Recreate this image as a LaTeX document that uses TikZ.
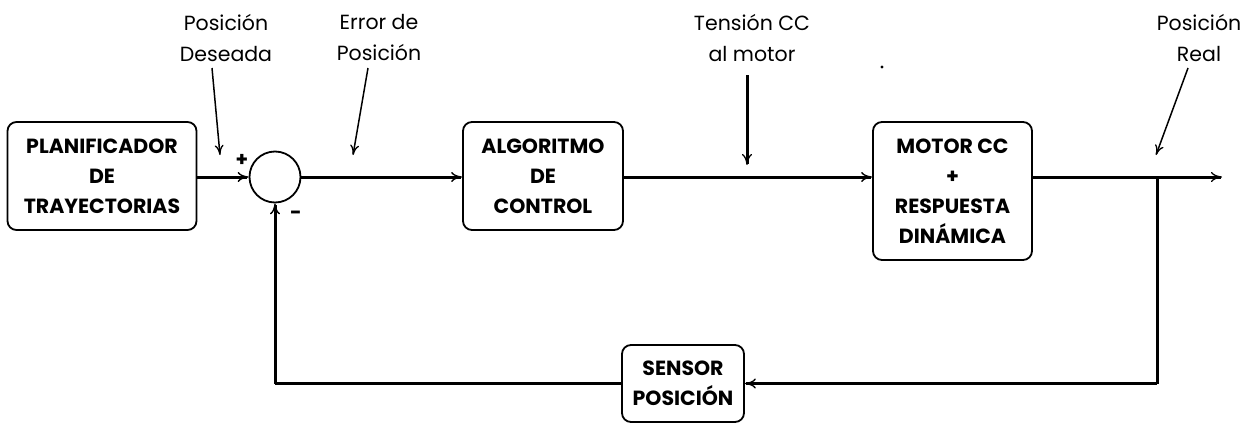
\documentclass[tikz,border=0pt]{standalone}
\usepackage{fontspec}
\setmainfont{Poppins}
\usetikzlibrary{arrows.meta}
\begin{document}
\begin{tikzpicture}[x=1pt,y=-1pt,
  blk/.style={draw,line width=1.8pt,rounded corners=9pt,align=center,inner sep=0pt,font=\fontsize{20.5}{30}\selectfont\bfseries},
  lbl/.style={align=center,inner sep=0pt,font=\fontsize{20.5}{31}\selectfont},
  sig/.style={line width=3pt,-{To[length=11pt,width=10pt,line width=1.3pt]}},
  ptr/.style={line width=1.5pt,-{To[length=10pt,width=9pt,line width=1.3pt]}}]
\useasboundingbox (0,0) rectangle (1258,423);
\node[blk,minimum width=189pt,minimum height=108pt] (plan) at (102,176) {PLANIFICADOR\\DE\\TRAYECTORIAS};
\node[draw,circle,line width=1.8pt,minimum size=51pt,inner sep=0pt] (sum) at (275,177) {};
\node[blk,minimum width=160pt,minimum height=108pt] (alg) at (543,176) {ALGORITMO\\DE\\CONTROL};
\node[blk,minimum width=159pt,minimum height=138pt] (mot) at (952.5,191) {MOTOR CC\\+\\RESPUESTA\\DINÁMICA};
\node[blk,minimum width=122pt,minimum height=77pt] (sen) at (683,383.5) {SENSOR\\POSICIÓN};
\coordinate (br) at (1157,177);
\coordinate (out) at (1222,177);
\coordinate (fl) at (sum.center |- sen.west);
\node[font=\fontsize{20}{20}\selectfont\bfseries] (plus) at (242,160) {+};
\node[font=\fontsize{20}{20}\selectfont\bfseries] (minus) at (296,215) {-};
\draw[sig] (plan.east |- sum.west) -- (sum.west);
\draw[sig] (sum.east) -- (alg.west |- sum.east);
\draw[sig] (alg.east |- sum.east) -- (mot.west |- sum.east);
\draw[sig] (mot.east |- sum.east) -- (out);
\draw[line width=3pt] (br) -- (br |- sen.east);
\draw[sig] (br |- sen.east) -- (sen.east);
\draw[line width=3pt] (sen.west) -- (fl);
\draw[sig] (fl) -- (sum.south);
\node[lbl] (l1) at (226,38) {Posición\\Deseada};
\node[lbl] (l2) at (379,38) {Error de\\Posición};
\node[lbl] (l3) at (752,38) {Tensión CC\\al motor};
\node[lbl] (l4) at (1199,38) {Posición\\Real};
\coordinate (a1) at (220,155);
\coordinate (a2) at (353,155);
\coordinate (a3) at (747,165);
\coordinate (a4) at (1156,155);
\draw[ptr] (212,68) -- (a1);
\draw[ptr] (368,68) -- (a2);
\draw[sig] (747,75) -- (a3);
\draw[ptr] (1188,68) -- (a4);
\fill (882,67) circle (1.6pt);
\end{tikzpicture}
\end{document}
